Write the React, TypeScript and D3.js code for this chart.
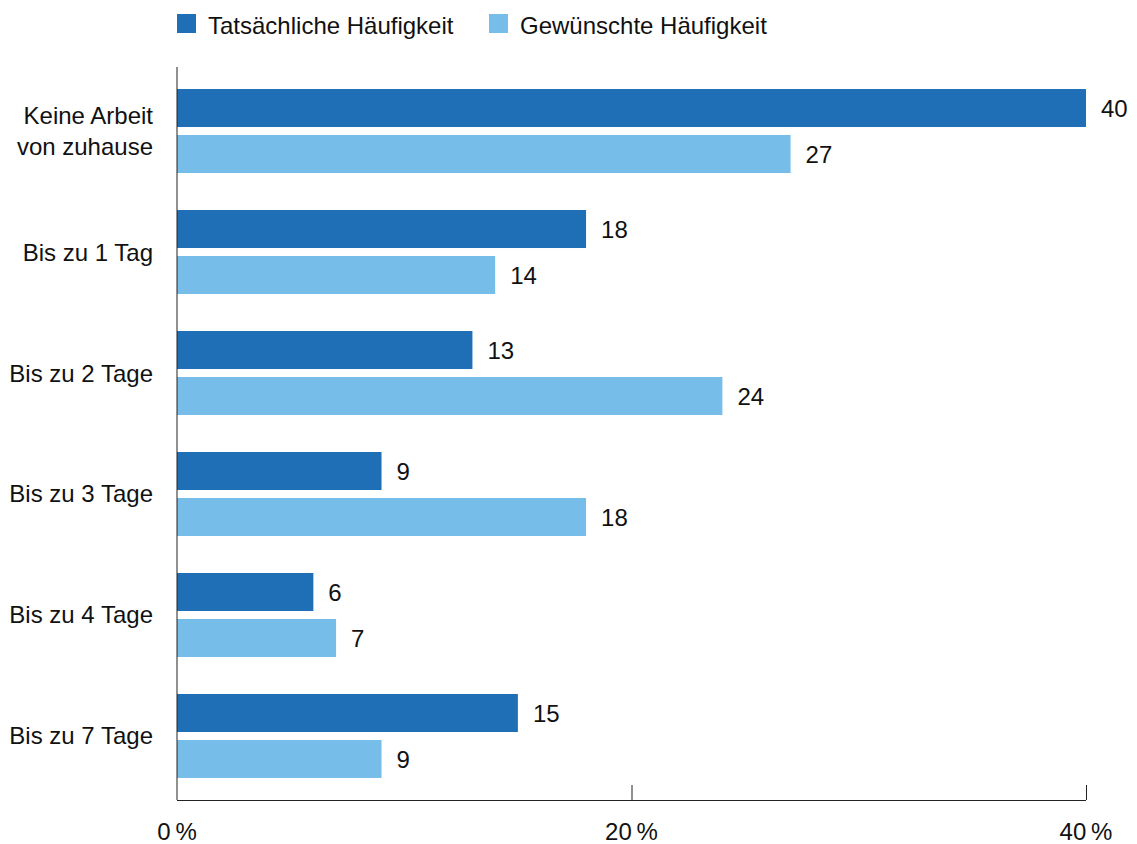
import React from "react";
import * as d3 from "d3";

const categories = [
  ["Keine Arbeit", "von zuhause"],
  ["Bis zu 1 Tag"],
  ["Bis zu 2 Tage"],
  ["Bis zu 3 Tage"],
  ["Bis zu 4 Tage"],
  ["Bis zu 7 Tage"],
];
const seriesNames = ["Tatsächliche Häufigkeit", "Gewünschte Häufigkeit"];
const actual = [40, 18, 13, 9, 6, 15];
const desired = [27, 14, 24, 18, 7, 9];
const xTicks = [0, 20, 40];
const colors = ["#1f6fb7", "#76bde9"];

const W = 1137;
const H = 844;
const left = 177;
const right = 1086;
const top = 67;
const bottom = 800;
const FONT = "'Liberation Sans', Arial, sans-serif";
const FS = 24;

export default function App() {
  const keys = categories.map((c) => c.join(" "));
  const x = d3.scaleLinear().domain([0, 40]).range([left, right]);
  const y = d3
    .scaleBand<string>()
    .domain(keys)
    .range([top, bottom])
    .paddingInner(0.3058)
    .paddingOuter(0.182);
  const inner = d3
    .scaleBand<string>()
    .domain(seriesNames)
    .range([0, y.bandwidth()])
    .paddingInner(0.1739);
  const series = [actual, desired];
  const lineGap = 31;

  return (
    <svg
      width={W}
      height={H}
      style={{ position: "absolute", left: 0, top: 0, display: "block" }}
      fontFamily={FONT}
    >
      <rect width={W} height={H} fill="#fff" />
      {/* legend */}
      <g>
        <rect x={177} y={14} width={19} height={19} fill={colors[0]} />
        <text x={208} y={34} fontSize={FS} fill="#111">
          {seriesNames[0]}
        </text>
        <rect x={489} y={14} width={19} height={19} fill={colors[1]} />
        <text x={520} y={34} fontSize={FS} fill="#111">
          {seriesNames[1]}
        </text>
      </g>
      {/* bars */}
      {keys.map((k, i) => {
        const cy = (y(k) as number) + y.bandwidth() / 2;
        const n = categories[i].length;
        return (
          <g key={k}>
            {series.map((vals, s) => {
              const yy = (y(k) as number) + (inner(seriesNames[s]) as number);
              const bw = inner.bandwidth();
              return (
                <g key={s}>
                  <rect
                    x={x(0)}
                    y={yy}
                    width={x(vals[i]) - x(0)}
                    height={bw}
                    fill={colors[s]}
                  />
                  <text
                    x={x(vals[i]) + 15}
                    y={yy + bw / 2 + 9}
                    fontSize={FS}
                    fill="#111"
                  >
                    {vals[i]}
                  </text>
                </g>
              );
            })}
            {categories[i].map((line, j) => (
              <text
                key={j}
                x={153}
                y={cy + 8.5 - ((n - 1) * lineGap) / 2 + j * lineGap}
                textAnchor="end"
                fontSize={FS}
                fill="#111"
              >
                {line}
              </text>
            ))}
          </g>
        );
      })}
      {/* axes */}
      <line x1={left} x2={left} y1={top} y2={bottom} stroke="#222" strokeWidth={1} />
      <line x1={left} x2={right} y1={bottom + 0.5} y2={bottom + 0.5} stroke="#222" strokeWidth={1} />
      {xTicks.map((t) => (
        <g key={t}>
          {t !== 0 && (
            <line
              x1={x(t) + 0.5}
              x2={x(t) + 0.5}
              y1={bottom}
              y2={bottom - 15}
              stroke="#222"
              strokeWidth={1}
            />
          )}
          <text x={x(t)} y={840} textAnchor="middle" fontSize={FS} fill="#111">
            {`${t}\u2009%`}
          </text>
        </g>
      ))}
    </svg>
  );
}
